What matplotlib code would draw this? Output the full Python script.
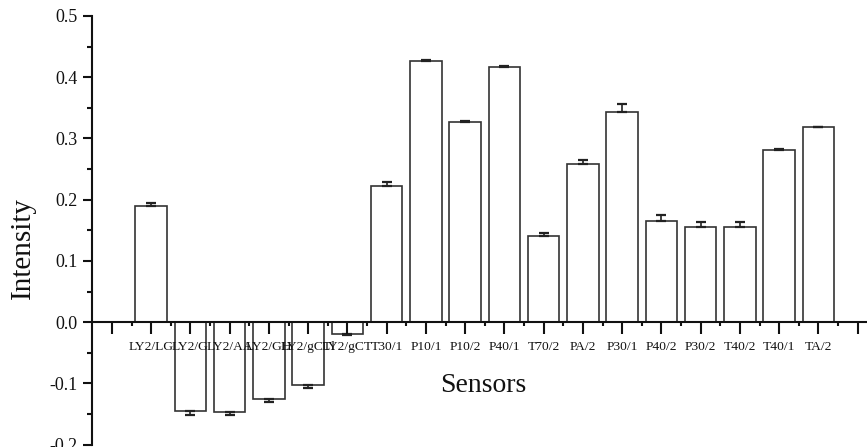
import matplotlib
matplotlib.use("Agg")
import matplotlib.pyplot as plt
from matplotlib.ticker import MultipleLocator, FixedLocator, FormatStrFormatter

plt.rcParams['font.family'] = ['Liberation Serif', 'DejaVu Serif']
plt.rcParams['axes.unicode_minus'] = False

sensors = ["LY2/LG", "LY2/G", "LY2/AA", "LY2/GH", "LY2/gCTl", "LY2/gCT",
           "T30/1", "P10/1", "P10/2", "P40/1", "T70/2", "PA/2",
           "P30/1", "P40/2", "P30/2", "T40/2", "T40/1", "TA/2"]
intensity = [0.190, -0.145, -0.147, -0.126, -0.102, -0.019,
             0.222, 0.426, 0.327, 0.417, 0.141, 0.258,
             0.343, 0.166, 0.156, 0.155, 0.281, 0.318]
errors = [0.004, 0.006, 0.004, 0.005, 0.006, 0.002,
          0.007, 0.002, 0.002, 0.001, 0.004, 0.007,
          0.013, 0.009, 0.008, 0.008, 0.001, 0.0015]

W, H = 867, 447
fig = plt.figure(figsize=(W / 100, H / 100), dpi=100)
ax = fig.add_axes([92.3 / W, 2.4 / H, 785 / W, (444.6 - 16) / H])
ax.set_axisbelow(False)

pos = list(range(1, len(sensors) + 1))
ax.bar(pos, intensity, width=0.8, color='white', edgecolor='#333333',
       linewidth=1.2, zorder=2)
lower = [0 if v >= 0 else e for v, e in zip(intensity, errors)]
upper = [e if v >= 0 else 0 for v, e in zip(intensity, errors)]
ax.errorbar(pos, intensity, yerr=[lower, upper], fmt='none', ecolor='#222222',
            elinewidth=1.2, capsize=3.6, capthick=1.6, zorder=2.2)

ax.set_xlim(-0.5, 19.5)
ax.set_ylim(-0.2, 0.5)

ax.spines['top'].set_visible(False)
ax.spines['right'].set_visible(False)
ax.spines['bottom'].set_position(('data', 0))
for s in ('left', 'bottom'):
    ax.spines[s].set_linewidth(1.5)
    ax.spines[s].set_color('#111111')
    ax.spines[s].set_zorder(3)

ax.xaxis.set_major_locator(FixedLocator(list(range(0, 20))))
ax.set_xticklabels([''] + sensors + [''])
ax.xaxis.set_minor_locator(FixedLocator([i + 0.5 for i in range(0, 19)]))
ax.yaxis.set_major_locator(MultipleLocator(0.1))
ax.yaxis.set_minor_locator(MultipleLocator(0.05))
ax.yaxis.set_major_formatter(FormatStrFormatter('%.1f'))

ax.tick_params(axis='x', which='major', direction='out', length=8.6, width=1.5,
               labelsize=9.7, pad=5, colors='#111111')
ax.tick_params(axis='x', which='minor', direction='out', length=3.2, width=1.5,
               colors='#111111')
ax.tick_params(axis='y', which='major', direction='out', length=6.5, width=1.5,
               labelsize=13, pad=4, colors='#111111')
ax.tick_params(axis='y', which='minor', direction='out', length=3.5, width=1.5,
               colors='#111111')

fig.text(23 / W, 1 - 248 / H, 'Intensity', rotation=90, ha='center',
         va='center', fontsize=21, color='#111111')
fig.text(483 / W, 1 - 385 / H, 'Sensors', ha='center', va='center',
         fontsize=20, color='#111111')

fig.savefig('out.png', dpi=100)
